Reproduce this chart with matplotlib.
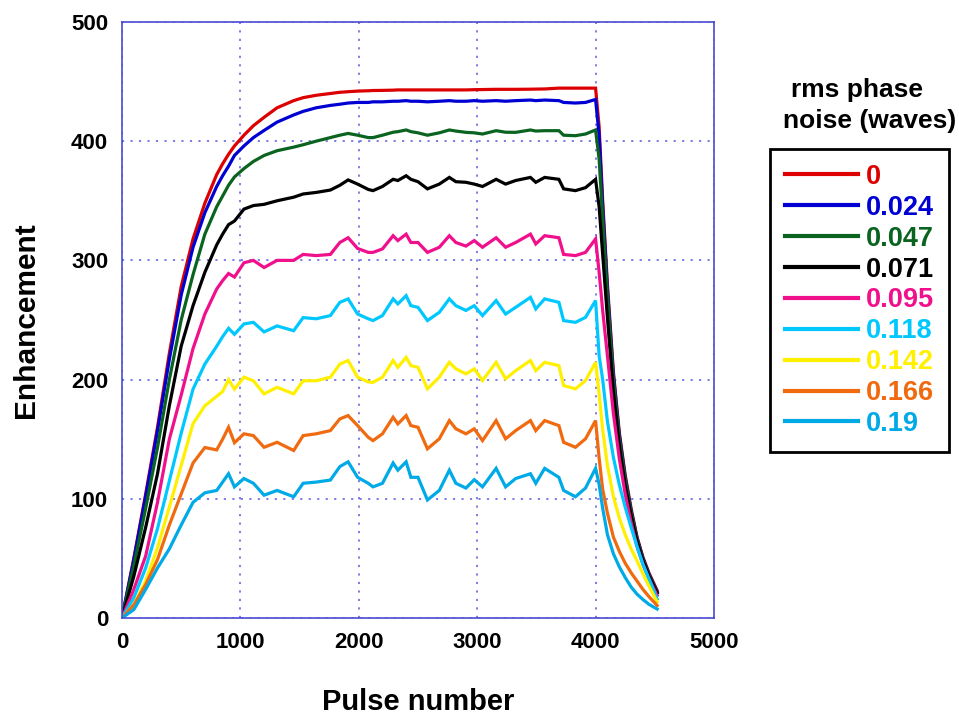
import matplotlib
matplotlib.use("Agg")
import matplotlib.pyplot as plt

# pulse positions shared by all traces
pulse = [0, 100, 200, 300, 400, 500, 600, 700, 800, 850, 900, 950,
         1030, 1110, 1200, 1310, 1450, 1530, 1640, 1760, 1840, 1910,
         1990, 2080, 2120, 2200, 2290, 2330, 2400, 2440, 2500, 2580,
         2680, 2765, 2820, 2905, 2975, 3045, 3160, 3240, 3325, 3450,
         3495, 3570, 3690, 3730, 3830, 3915, 4000, 4030, 4060, 4100,
         4150, 4200, 4250, 4300, 4350, 4400, 4450, 4520]

noise_labels = ["0", "0.024", "0.047", "0.071", "0.095",
                "0.118", "0.142", "0.166", "0.19"]

enh_000 = [0, 50, 104, 160, 222, 278, 318, 348, 372, 381, 389, 396,
           405, 413, 420, 428, 434, 436.5, 438.5, 440, 441, 441.5,
           442, 442.3, 442.5, 442.6, 442.8, 443, 443, 443, 443, 443,
           443, 443, 443, 443, 443.2, 443.3, 443.5, 443.5, 443.5, 443.6,
           443.7, 443.8, 444.5, 444.5, 444.5, 444.5, 444.5, 412, 350, 280,
           207, 156, 120, 92, 68, 51, 38, 23]
enh_024 = [0, 49, 102, 157, 217, 271, 311, 340, 362, 371, 379, 388,
           396, 403, 409, 416, 422, 425, 428, 430, 431, 432,
           432.5, 432.5, 433, 433, 433.5, 433.5, 434, 433.5, 433.5, 433,
           433.5, 434, 433.5, 433.5, 434, 433.5, 434, 433.5, 434, 434.5,
           434, 434.5, 434, 432.5, 432, 432.5, 435, 405, 345, 276,
           204, 154, 118, 90, 67, 50, 37, 22]
enh_047 = [0, 44, 92, 143, 200, 250, 288, 322, 345, 354, 363, 370,
           377, 383, 388, 392, 395, 397, 400, 403, 405, 406.5,
           405, 403, 403, 405, 407.5, 408, 409.4, 408, 407, 405,
           407, 409.4, 408.5, 407.4, 407, 406, 408.8, 407.5, 407.4, 409.4,
           408.5, 408.8, 408.8, 405, 404.6, 406, 409.4, 385, 335, 270,
           200, 151, 116, 89, 66, 49, 36, 21.5]
enh_071 = [0, 35, 76, 121, 178, 228, 262, 290, 313, 322, 330, 333,
           343, 346, 347, 350, 353, 355.7, 357, 359, 363, 367.5,
           364, 359.5, 358.5, 362, 368, 367, 371, 368, 366, 360,
           364, 369.6, 366, 365.5, 364, 362, 368, 364, 367, 369.6,
           365.5, 369.6, 368, 360, 358.5, 361, 368, 345, 305, 252,
           190, 145, 111, 86, 64, 48, 35, 21]
enh_095 = [0, 24, 52, 97, 150, 187, 226, 255, 276, 283, 289, 286,
           298, 300, 294, 300, 300, 305, 304, 305, 315, 319,
           310, 306.7, 306.7, 309.6, 320.7, 316.6, 322, 315, 315, 306.7,
           311, 320.7, 315, 312, 316.6, 311, 319, 311, 315, 322,
           313.8, 320.7, 319, 305, 304, 306.7, 318, 290, 258, 220,
           172, 134, 104, 80, 60, 45, 33, 19]
enh_118 = [0, 17, 42, 75, 115, 155, 192, 213, 228, 236, 243, 238,
           246.7, 248, 240, 245, 241, 252, 251, 253.7, 264.8, 267.7,
           255, 251, 249.5, 253.7, 267.7, 263.5, 270.4, 262, 260.6, 249.5,
           256.4, 267.7, 262, 258, 262, 253.7, 266.3, 255, 260.6, 269,
           259.3, 267.7, 264.8, 249.5, 248, 252.2, 266.3, 220, 200, 165,
           135, 112, 93, 76, 60, 45, 33, 16]
enh_142 = [0, 11, 31, 59, 93, 128, 163, 178, 186, 190, 200, 192,
           202, 199, 188, 193.5, 188, 199, 199, 202, 213, 216,
           202, 198, 197.7, 202, 216, 210.3, 218.7, 211.7, 210.3, 192.2,
           202, 214.5, 209, 204.8, 209, 199.2, 214.5, 200.6, 207.5, 216,
           207.5, 214.5, 211.7, 195, 192.2, 199.2, 214.5, 188, 158, 128,
           102, 84, 70, 58, 48, 37, 27, 13.5]
enh_166 = [0, 11, 28, 49, 78, 104, 130, 143, 141, 150, 160, 147,
           154.5, 153, 143.2, 147.4, 140.5, 153, 154.5, 157.2, 167, 169.8,
           161.4, 151.6, 148.8, 154.5, 168.4, 162.8, 169.8, 161.4, 160, 141.9,
           150.3, 165.6, 158.7, 154.5, 158.7, 148.8, 165.6, 150.3, 157.2, 165.6,
           157.2, 165.6, 161.4, 147.4, 143.2, 150.3, 165.6, 134, 108, 88,
           68, 56, 46, 38, 31, 24, 18, 10.5]
enh_190 = [0, 7, 24, 42, 58, 78, 97, 105, 107, 114, 121, 110,
           117, 113, 103, 107, 101.7, 113, 114, 115.7, 127, 131,
           118, 113, 110, 113, 130, 124, 131, 118, 118, 99,
           107, 124, 113, 109, 116, 110, 125.5, 110, 117, 121,
           113, 125.5, 118, 107, 101.7, 109, 125.5, 112, 92, 70,
           54, 43, 34, 26, 20, 15.5, 11.5, 7.5]

series = [enh_000, enh_024, enh_047, enh_071, enh_095,
          enh_118, enh_142, enh_166, enh_190]
colors = ["#dc0000", "#0000d2", "#0a6420", "#000000", "#f0108c",
          "#00c8ff", "#fff000", "#f06a10", "#00aae6"]

plt.rcParams["font.family"] = ["Liberation Sans", "DejaVu Sans"]
plt.rcParams["font.weight"] = "bold"

fig = plt.figure(figsize=(9.59, 7.18), dpi=100)
ax = fig.add_axes([0.1272, 0.1393, 0.6173, 0.8301])

for y, c, lab in zip(series, colors, noise_labels):
    ax.plot(pulse, y, color=c, lw=2.3, label=lab, solid_joinstyle="miter")

ax.set_xlim(0, 5000)
ax.set_ylim(0, 500)
ax.set_xticks(range(0, 5001, 1000))
ax.set_yticks(range(0, 501, 100))
ax.grid(True, color="#5050e0", linestyle=(0, (1.2, 3.5)), linewidth=1.3, alpha=0.8)
for side in ["left", "bottom", "top", "right"]:
    ax.spines[side].set_color("#4a4ad0")
    ax.spines[side].set_linewidth(1.2)
ax.tick_params(axis="both", labelsize=16, length=0, pad=10)
for t in ax.get_xticklabels() + ax.get_yticklabels():
    t.set_fontweight("bold")

ax.set_xlabel("Pulse number", fontsize=21, fontweight="bold", labelpad=25)
ax.set_ylabel("Enhancement", fontsize=21.5, fontweight="bold", labelpad=22)

# legend heading sits above the box
fig.text(857 / 959, 1 - 90 / 718, "rms phase", ha="center", va="center",
         fontsize=19, fontweight="bold")
fig.text(870 / 959, 1 - 121 / 718, "noise (waves)", ha="center", va="center",
         fontsize=19, fontweight="bold")

leg = ax.legend(loc="upper left", bbox_to_anchor=(770 / 959, 1 - 149 / 718),
                bbox_transform=fig.transFigure, frameon=True, fancybox=False,
                edgecolor="black", framealpha=1, labelcolor="linecolor",
                prop={"size": 19.5, "weight": "bold"}, handlelength=2.7,
                handletextpad=0.3, labelspacing=0.18, borderpad=0.55,
                borderaxespad=0)
leg.get_frame().set_linewidth(2.0)
for h in leg.get_lines():
    h.set_linewidth(3.0)

fig.savefig("out.png", dpi=100)
